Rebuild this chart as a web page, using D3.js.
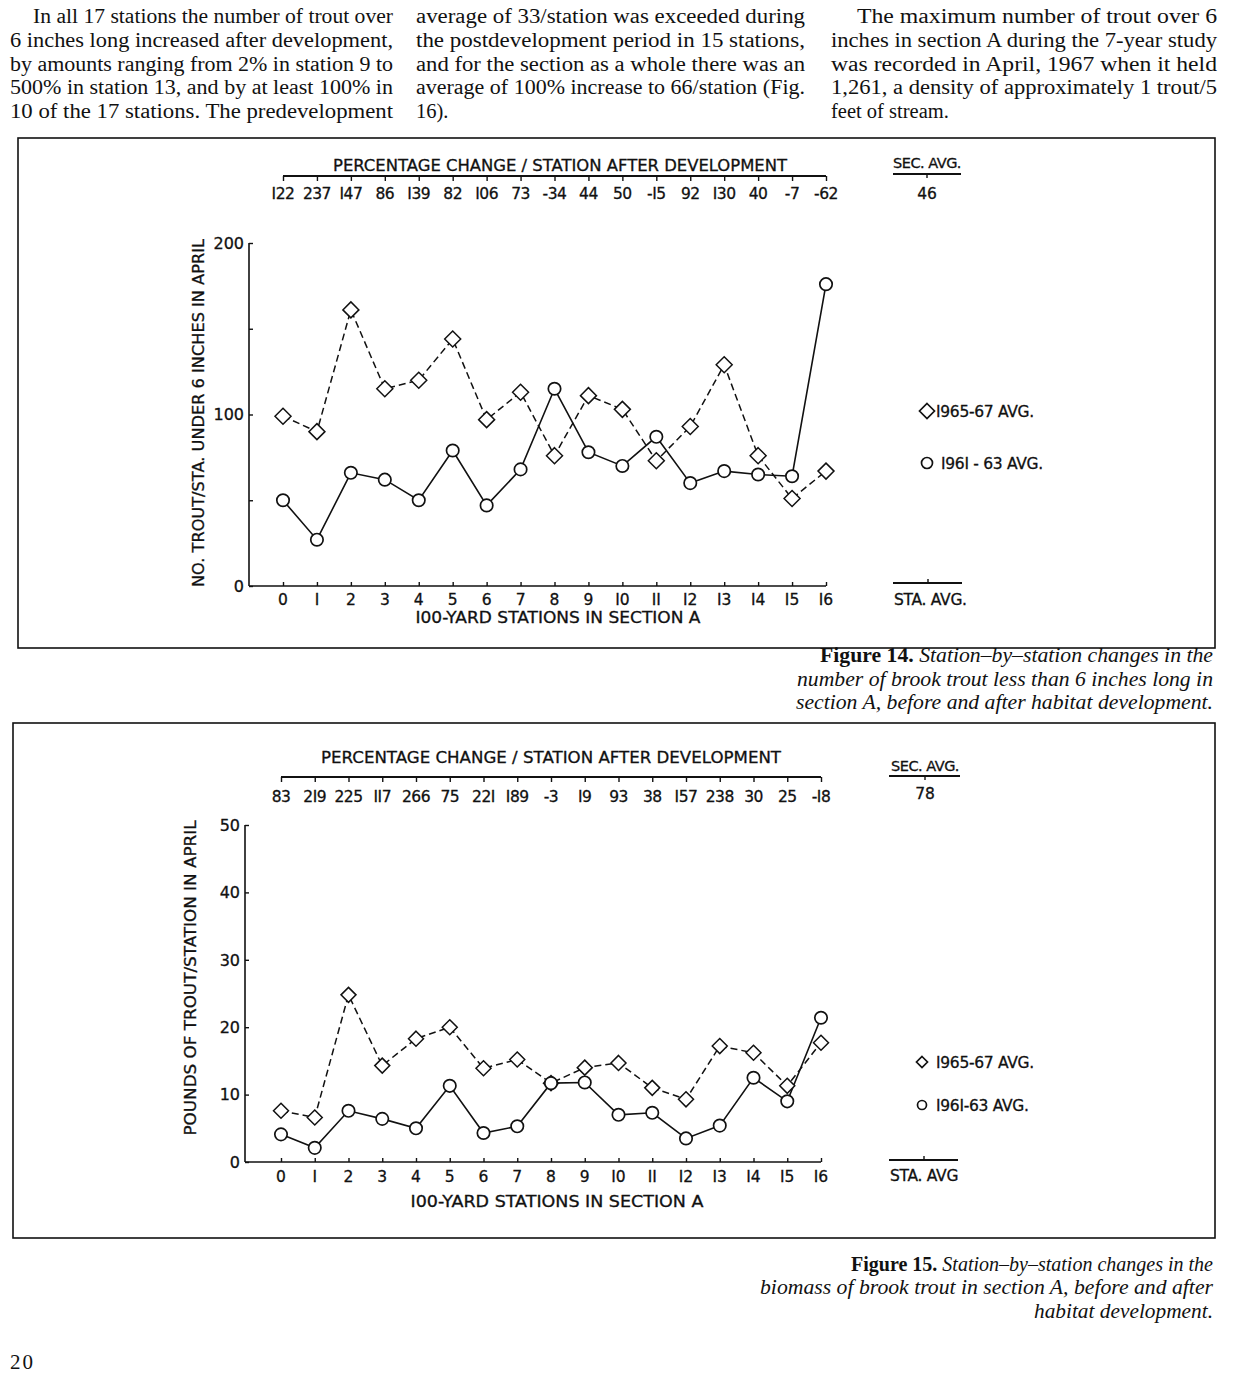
<!DOCTYPE html>
<html><head><meta charset="utf-8">
<script src="https://cdn.jsdelivr.net/npm/d3@7"></script>
<style>
html,body{margin:0;padding:0;background:#fff;}
svg{display:block;}
.serif{font-family:"Liberation Serif","DejaVu Serif",serif;fill:#111;}
.lab{font-family:"DejaVu Sans","Liberation Sans",sans-serif;fill:#111;stroke:#111;stroke-width:0.3;}
</style>
</head><body>
<script>
// ---------- DATA ----------
const stations = [0,1,2,3,4,5,6,7,8,9,10,11,12,13,14,15,16];
const stationLabels = ["0","I","2","3","4","5","6","7","8","9","I0","II","I2","I3","I4","I5","I6"];

// Figure 14: number of trout under 6 inches / station in April
const fig14After  = [99,90,161,115,120,144,97,113,76,111,103,73,93,129,76,51,67];   // 1965-67 avg
const fig14Before = [50,27,66,62,50,79,47,68,115,78,70,87,60,67,65,64,176];        // 1961-63 avg
const fig14Pct    = ["I22","237","I47","86","I39","82","I06","73","-34","44","50","-I5","92","I30","40","-7","-62"];
const fig14SecAvg = "46";
const fig14YTicks = [0,50,100,150,200];
const fig14YLabels = [0,100,200];

// Figure 15: pounds of trout / station in April
const fig15After  = [7.6,6.6,24.8,14.3,18.3,20.0,13.9,15.2,11.7,14.0,14.7,11.0,9.3,17.2,16.2,11.3,17.7];
const fig15Before = [4.1,2.1,7.6,6.4,5.0,11.3,4.3,5.3,11.7,11.8,7.0,7.3,3.5,5.4,12.5,9.0,21.4];
const fig15Pct    = ["83","2I9","225","II7","266","75","22I","I89","-3","I9","93","38","I57","238","30","25","-I8"];
const fig15SecAvg = "78";
const fig15YTicks = [0,10,20,30,40,50];

// Body text
const col1 = ["In all 17 stations the number of trout over","6 inches long increased after development,","by amounts ranging from 2% in station 9 to","500% in station 13, and by at least 100% in","10 of the 17 stations. The predevelopment"];
const col2 = ["average of 33/station was exceeded during","the postdevelopment period in 15 stations,","and for the section as a whole there was an","average of 100% increase to 66/station (Fig.","16)."];
const col3 = ["The maximum number of trout over 6","inches in section A during the 7-year study","was recorded in April, 1967 when it held","1,261, a density of approximately 1 trout/5","feet of stream."];

// ---------- DRAW ----------
const W = 1237, H = 1380;
const svg = d3.select("body").append("svg").attr("width", W).attr("height", H);
svg.append("rect").attr("width", W).attr("height", H).attr("fill", "#fff");

// Body text columns
function column(lines, x0, x1, indent, justifyLast) {
  const base = [23, 47, 71, 94, 118];
  lines.forEach((t, i) => {
    const sx = x0 + (i === 0 ? indent : 0);
    const el = svg.append("text").attr("class", "serif")
      .attr("x", sx).attr("y", base[i]).attr("font-size", 20.5).text(t);
    const last = i === lines.length - 1;
    if (!last || justifyLast) {
      el.attr("textLength", x1 - sx).attr("lengthAdjust", "spacingAndGlyphs");
    }
  });
}
column(col1, 10, 393, 23, true);
column(col2, 416, 805, 0, false);
column(col3, 831, 1217, 26, false);

// Page number
svg.append("text").attr("class", "serif").attr("x", 10).attr("y", 1369)
  .attr("font-size", 21).attr("letter-spacing", 2).text("20");

// Captions
function caption(num, lines, baselines, widths) {
  lines.forEach((t, i) => {
    const el = svg.append("text").attr("class", "serif").attr("x", 1213).attr("y", baselines[i])
      .attr("text-anchor", "end").attr("font-size", 21)
      .attr("textLength", widths[i]).attr("lengthAdjust", "spacingAndGlyphs");
    if (i === 0) {
      el.append("tspan").attr("font-weight", "bold").text(num + " ");
    }
    el.append("tspan").attr("font-style", "italic").text(t);
  });
}
caption("Figure 14.", ["Station\u2013by\u2013station changes in the","number of brook trout less than 6 inches long in","section A, before and after habitat development."], [662, 686, 709], [393, 416, 417]);
caption("Figure 15.", ["Station\u2013by\u2013station changes in the","biomass of brook trout in section A, before and after","habitat development."], [1271, 1294, 1318], [362, 453, 179]);

function diamondPath(s) {
  return `M0,${-s}L${s},0L0,${s}L${-s},0Z`;
}

function chart(cfg) {
  const g = svg.append("g");
  // frame
  g.append("rect").attr("x", cfg.box[0]).attr("y", cfg.box[1])
    .attr("width", cfg.box[2]).attr("height", cfg.box[3])
    .attr("fill", "none").attr("stroke", "#111").attr("stroke-width", 1.6);

  const x = d3.scaleLinear().domain([0, 16]).range(cfg.xr);
  const y = d3.scaleLinear().domain(cfg.yd).range(cfg.yr);

  // y axis
  const yAxis = d3.axisRight(y).tickValues(cfg.yTicks).tickSize(4).tickFormat("");
  const ya = g.append("g").attr("transform", `translate(${cfg.yAxisX},0)`).call(yAxis);
  ya.select(".domain").attr("d", `M0,${y(cfg.yd[0])}V${y(cfg.yd[1])}`).attr("stroke", "#111").attr("stroke-width", 1.6);
  ya.selectAll(".tick line").attr("stroke", "#111").attr("stroke-width", 1.4);
  g.selectAll(".ylab").data(cfg.yLabels).join("text").attr("class", "lab")
    .attr("x", cfg.yAxisX - 5).attr("y", d => y(d)).attr("dy", "0.36em")
    .attr("text-anchor", "end").attr("font-size", cfg.yFont).text(d => d);

  // y title
  g.append("text").attr("class", "lab")
    .attr("transform", `translate(${cfg.yTitle[0]},${cfg.yTitle[1]}) rotate(-90)`)
    .attr("text-anchor", "middle").attr("font-size", 15)
    .attr("textLength", cfg.yTitleLen).attr("lengthAdjust", "spacingAndGlyphs")
    .text(cfg.yTitleText);

  // x axis
  const xAxis = d3.axisTop(x).tickValues(stations).tickSize(4).tickFormat("");
  const xa = g.append("g").attr("transform", `translate(0,${y(0)})`).call(xAxis);
  xa.select(".domain").attr("d", `M${cfg.yAxisX},0H${x(16)}`).attr("stroke", "#111").attr("stroke-width", 1.6);
  xa.selectAll(".tick line").attr("stroke", "#111").attr("stroke-width", 1.4);
  g.selectAll(".xlab").data(stations).join("text").attr("class", "lab")
    .attr("x", d => x(d)).attr("y", cfg.xLabY).attr("text-anchor", "middle")
    .attr("font-size", 15.5).text(d => stationLabels[d]);
  g.append("text").attr("class", "lab").attr("x", cfg.xTitle[0]).attr("y", cfg.xTitle[1])
    .attr("text-anchor", "middle").attr("font-size", 15.5)
    .attr("textLength", cfg.xTitleLen).attr("lengthAdjust", "spacingAndGlyphs")
    .text("I00-YARD STATIONS IN SECTION A");

  // top percentage axis
  const tAxis = d3.axisBottom(x).tickValues(stations).tickSize(5).tickFormat("");
  const ta = g.append("g").attr("transform", `translate(0,${cfg.topY})`).call(tAxis);
  ta.select(".domain").attr("d", `M${x(0)},0H${x(16)}`).attr("stroke", "#111").attr("stroke-width", 1.8);
  ta.selectAll(".tick line").attr("stroke", "#111").attr("stroke-width", 1.4);
  g.selectAll(".plab").data(stations).join("text").attr("class", "lab")
    .attr("x", d => x(d)).attr("y", cfg.topLabY).attr("text-anchor", "middle")
    .attr("font-size", 15.5).attr("letter-spacing", -0.5).text(d => cfg.pct[d]);
  g.append("text").attr("class", "lab").attr("x", cfg.topTitle[0]).attr("y", cfg.topTitle[1])
    .attr("text-anchor", "middle").attr("font-size", 16)
    .attr("textLength", cfg.topTitleLen).attr("lengthAdjust", "spacingAndGlyphs")
    .text("PERCENTAGE CHANGE / STATION AFTER DEVELOPMENT");

  // SEC. AVG.
  const sa = cfg.sec;
  g.append("text").attr("class", "lab").attr("x", sa.cx).attr("y", sa.ty).attr("text-anchor", "middle")
    .attr("font-size", 14.5).attr("letter-spacing", -0.5).text("SEC. AVG.");
  g.append("line").attr("x1", sa.x1).attr("x2", sa.x2).attr("y1", sa.ly).attr("y2", sa.ly)
    .attr("stroke", "#111").attr("stroke-width", 1.8);
  g.append("line").attr("x1", sa.cx).attr("x2", sa.cx).attr("y1", sa.ly).attr("y2", sa.ly + 4)
    .attr("stroke", "#111").attr("stroke-width", 1.4);
  g.append("text").attr("class", "lab").attr("x", sa.cx).attr("y", sa.vy).attr("text-anchor", "middle")
    .attr("font-size", 15.5).text(cfg.secVal);

  // STA. AVG.
  const st = cfg.sta;
  g.append("line").attr("x1", st.x1).attr("x2", st.x2).attr("y1", st.ly).attr("y2", st.ly)
    .attr("stroke", "#111").attr("stroke-width", 1.8);
  g.append("line").attr("x1", st.cx).attr("x2", st.cx).attr("y1", st.ly).attr("y2", st.ly - 4)
    .attr("stroke", "#111").attr("stroke-width", 1.4);
  g.append("text").attr("class", "lab").attr("x", st.x1 + 1).attr("y", st.ty)
    .attr("font-size", 15.5).attr("letter-spacing", -0.3).text(st.text);

  // lines
  const line = d3.line().x((d, i) => x(i)).y(d => y(d));
  g.append("path").datum(cfg.after).attr("d", line).attr("fill", "none")
    .attr("stroke", "#111").attr("stroke-width", 1.5).attr("stroke-dasharray", "7,4");
  g.append("path").datum(cfg.before).attr("d", line).attr("fill", "none")
    .attr("stroke", "#111").attr("stroke-width", 1.6);

  // markers
  g.selectAll(".dia").data(cfg.after).join("path")
    .attr("transform", (d, i) => `translate(${x(i)},${y(d)})`)
    .attr("d", diamondPath(cfg.dSize)).attr("fill", "#fff").attr("stroke", "#111").attr("stroke-width", 1.5);
  g.selectAll(".cir").data(cfg.before).join("circle")
    .attr("cx", (d, i) => x(i)).attr("cy", d => y(d)).attr("r", cfg.cR)
    .attr("fill", "#fff").attr("stroke", "#111").attr("stroke-width", 1.7);

  // legend
  const L = cfg.legend;
  g.append("path").attr("transform", `translate(${L.dx},${L.dy})`).attr("d", diamondPath(L.ds))
    .attr("fill", "#fff").attr("stroke", "#111").attr("stroke-width", 1.7);
  g.append("text").attr("class", "lab").attr("x", L.tx1).attr("y", L.dy).attr("dy", "0.36em")
    .attr("font-size", 15.5).attr("letter-spacing", -0.3).text(L.t1);
  g.append("circle").attr("cx", L.dx).attr("cy", L.cy).attr("r", L.cr)
    .attr("fill", "#fff").attr("stroke", "#111").attr("stroke-width", 1.7);
  g.append("text").attr("class", "lab").attr("x", L.tx2).attr("y", L.cy).attr("dy", "0.36em")
    .attr("font-size", 15.5).attr("letter-spacing", -0.3).text(L.t2);
}

chart({
  box: [18, 138, 1197, 510],
  xr: [283, 826], yd: [0, 200], yr: [586, 243],
  yAxisX: 249, yTicks: fig14YTicks, yLabels: fig14YLabels, yFont: 16,
  yTitle: [204, 413], yTitleLen: 348, yTitleText: "NO. TROUT/STA. UNDER 6 INCHES IN APRIL",
  xLabY: 605, xTitle: [558, 623], xTitleLen: 285,
  topY: 176, topLabY: 199, topTitle: [560, 171], topTitleLen: 454, pct: fig14Pct,
  sec: {cx: 927, ty: 168, ly: 174, x1: 893, x2: 961, vy: 199}, secVal: fig14SecAvg,
  sta: {cx: 928, ly: 583, x1: 893, x2: 962, ty: 605, text: "STA. AVG."},
  after: fig14After, before: fig14Before, dSize: 8, cR: 6.2,
  legend: {dx: 927, dy: 411, ds: 7.5, tx1: 936, t1: "I965-67 AVG.", cy: 463, cr: 5.5, tx2: 941, t2: "I96I - 63 AVG."}
});

chart({
  box: [13, 723, 1202, 515],
  xr: [281, 821], yd: [0, 50], yr: [1162, 825],
  yAxisX: 245, yTicks: fig15YTicks, yLabels: fig15YTicks, yFont: 16,
  yTitle: [196, 978], yTitleLen: 315, yTitleText: "POUNDS OF TROUT/STATION IN APRIL",
  xLabY: 1182, xTitle: [557, 1207], xTitleLen: 293,
  topY: 777, topLabY: 802, topTitle: [551, 763], topTitleLen: 460, pct: fig15Pct,
  sec: {cx: 925, ty: 771, ly: 776, x1: 889, x2: 960, vy: 799}, secVal: fig15SecAvg,
  sta: {cx: 924, ly: 1160, x1: 889, x2: 958, ty: 1181, text: "STA. AVG"},
  after: fig15After, before: fig15Before, dSize: 7.5, cR: 6.2,
  legend: {dx: 922, dy: 1062, ds: 5.5, tx1: 936, t1: "I965-67  AVG.", cy: 1105, cr: 4.5, tx2: 936, t2: "I96I-63  AVG."}
});
</script>
</body></html>
